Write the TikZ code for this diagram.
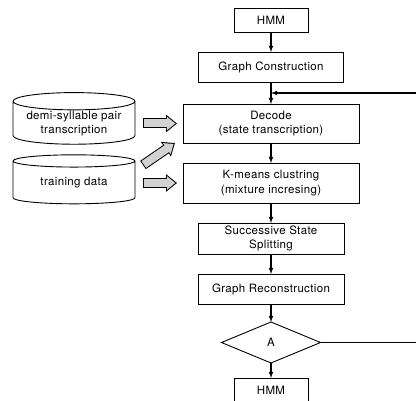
\documentclass[tikz,border=0pt]{standalone}
\usepackage{fontspec}
\setmainfont{TeX Gyre Heros}[LetterSpace=3.0]
\usetikzlibrary{positioning,shapes.geometric,arrows.meta}

\begin{document}
\begin{tikzpicture}[
  x = 1pt, y = -1pt,
  node distance = 20pt,
  font          = \fontsize{11.5}{14.5}\selectfont,
  boite/.style  = {draw, line width=0.9pt, align=center, inner sep=2pt, outer sep=0pt},
  base/.style   = {cylinder, shape border rotate=90, draw, line width=0.9pt,
                   aspect=0.18, minimum width=122pt, minimum height=49pt,
                   align=center, inner sep=0.5pt, outer sep=0pt},
  test/.style   = {diamond, draw, line width=0.9pt, aspect=2.4,
                   minimum width=99pt, minimum height=41pt, inner sep=0pt, outer sep=0pt},
  fleche/.style = {-latex, line width=1.1pt},
  ligne/.style  = {line width=1.1pt},
  grosse/.style = {line width=10pt, -{Triangle[length=11pt,width=17pt]},
                   postaction={draw=gray!35, line width=8pt,
                               shorten <=1pt, shorten >=1.64pt,
                               -{Triangle[length=8.4pt,width=13pt]}}}
]
\useasboundingbox (0,0) rectangle (416,401);
\clip (0,0) rectangle (416,401);
% chaine principale
\node[boite, minimum width=74pt, minimum height=24pt] (hmm) at (271,20) {HMM};
\node[boite, minimum width=145pt, minimum height=30pt, below=of hmm] (gc) {Graph Construction};
\node[boite, minimum width=176pt, minimum height=39pt, below=22pt of gc] (dec) {Decode\\(state transcription)};
\node[boite, minimum width=176pt, minimum height=40pt, below=of dec] (km) {K-means clustring\\(mixture incresing)};
\node[boite, minimum width=146pt, minimum height=31pt, below=of km] (sss) {Successive State\\Splitting};
\node[boite, minimum width=146pt, minimum height=30pt, below=of sss] (gr) {Graph Reconstruction};
\node[test, below=18pt of gr] (a) {A};
\node[boite, minimum width=74pt, minimum height=24pt, below=15pt of a] (hmmb) {HMM};
% bases de donnees
\node[base, left=48pt of dec] (demi) {demi-syllable pair\\transcription};
\node[base, left=48pt of km] (train) {training data};
\coordinate (bord) at (416,93);
\draw[fleche] (hmm) -- (gc);
\draw[fleche] (gc) -- (dec);
\draw[fleche] (dec) -- (km);
\draw[fleche] (km) -- (sss);
\draw[fleche] (sss) -- (gr);
\draw[fleche] (gr) -- (a);
\draw[fleche] (a) -- (hmmb);
\draw[fleche] (bord) -- (bord -| gc.south);
\draw[ligne] (a.east) -- (a.east -| bord);
\draw[grosse] ([xshift=8pt]dec.west -| demi.east) -- ([xshift=-6pt]dec.west);
\draw[grosse] ([xshift=8pt,yshift=18pt]train.east) -- ([xshift=-8pt]dec.south west);
\draw[grosse] ([xshift=8pt]km.west -| train.east) -- ([xshift=-6pt]km.west);
\end{tikzpicture}
\end{document}
